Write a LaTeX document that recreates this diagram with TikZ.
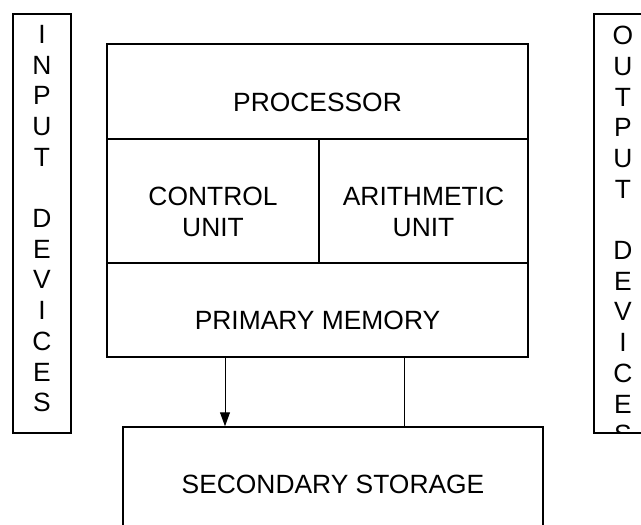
\documentclass[tikz,border=0pt]{standalone}
\usepackage{fontspec}
\setmainfont{Liberation Sans}
\usetikzlibrary{arrows.meta}
\begin{document}
\begin{tikzpicture}[x=1pt,y=-1pt,
  box/.style={draw, line width=1.5pt, inner sep=0pt},
  lbl/.style={font=\fontsize{26.4}{30.7}\selectfont, inner sep=0pt, anchor=base},
  vlbl/.style={font=\fontsize{26.4}{30.7}\selectfont, inner sep=0pt, align=center, anchor=north},
  conn/.style={line width=1pt}]
\useasboundingbox (0,0) rectangle (641,525);
\clip (0,0) rectangle (641,525);
% main box cells
\node[box, minimum width=421pt, minimum height=95pt] (proc) at (317.5,91.5) {};
\node[box, minimum width=212pt, minimum height=124pt] (ctrl) at (213,201) {};
\node[box, minimum width=209pt, minimum height=124pt] (arith) at (423.5,201) {};
\node[box, minimum width=421pt, minimum height=94pt] (mem) at (317.5,310) {};
% secondary storage
\node[box, minimum width=420pt, minimum height=140pt] (sec) at (333,497) {};
% input / output boxes
\node[box, minimum width=58pt, minimum height=419pt] (in) at (42,223.5) {};
\node[box, minimum width=58pt, minimum height=419pt] (out) at (623,223.5) {};
% labels
\node[lbl] (tproc) at (317.5,111) {PROCESSOR};
\node[lbl] (tctrl1) at (213,205) {CONTROL};
\node[lbl] (tctrl2) at (213,236) {UNIT};
\node[lbl] (tarith1) at (423.5,205) {ARITHMETIC};
\node[lbl] (tarith2) at (423.5,236) {UNIT};
\node[lbl] (tmem) at (317.5,329) {PRIMARY MEMORY};
\node[lbl] (tsec) at (333,493) {SECONDARY STORAGE};
\node[vlbl] (tin) at (42,25) {I\\N\\P\\U\\T\\\mbox{}\\D\\E\\V\\I\\C\\E\\S};
\begin{scope}
  \clip (594,14) rectangle (652,433);
  \node[vlbl] (tout) at (623,26) {O\\U\\T\\P\\U\\T\\\mbox{}\\D\\E\\V\\I\\C\\E\\S};
\end{scope}
% connectors
\draw[conn, -{Triangle[length=14pt,width=10pt]}] ([xshift=-92.5pt]mem.south) -- ([xshift=-108pt]sec.north);
\draw[conn] ([xshift=86.5pt]mem.south) -- ([xshift=71pt]sec.north);
\end{tikzpicture}
\end{document}
